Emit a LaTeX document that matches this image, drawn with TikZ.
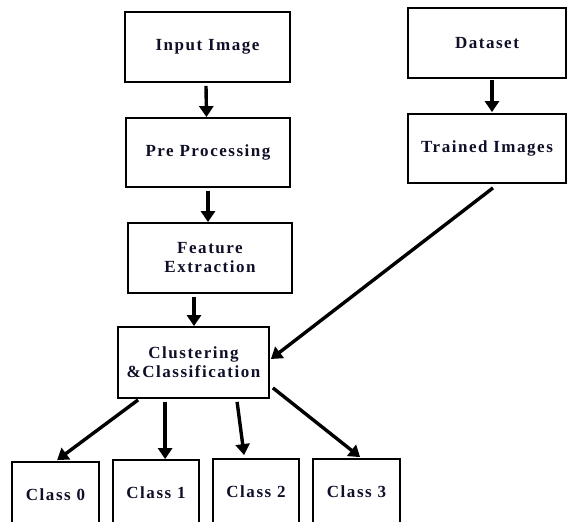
\documentclass[tikz,border=0pt]{standalone}
\usepackage{fontspec}
\setmainfont{Liberation Serif}[LetterSpace=9]
\usetikzlibrary{arrows.meta,calc}
\definecolor{txt}{RGB}{15,15,40}
\begin{document}
\begin{tikzpicture}[x=1pt,y=-1pt,
  box/.style={draw=black,line width=1.8pt,inner sep=0pt,text=txt,
    font=\fontsize{17}{19}\selectfont\bfseries,align=center},
  arr/.style={line width=3.4pt,-{Triangle[length=11pt,width=14pt]}}]
\useasboundingbox (0,0) rectangle (568,522);
\clip (0,0) rectangle (568,522);
\node[box,minimum width=165pt,minimum height=70pt] (input) at (207.5,47) {\raisebox{-3pt}{Input Image}};
\node[box,minimum width=164pt,minimum height=69pt] (pre) at (208,152.5) {Pre Processing};
\node[box,minimum width=164pt,minimum height=70pt] (feat) at (210,258) {Feature\\Extraction};
\node[box,minimum width=158pt,minimum height=70pt] (data) at (487,43) {Dataset};
\node[box,minimum width=158pt,minimum height=69pt] (train) at (487,148.5) {Trained Images};
\node[box,minimum width=151pt,minimum height=71pt] (clust) at (193.5,362.5) {Clustering\\\&Classification};
\node[box,minimum width=87pt,minimum height=66pt] (c0) at (55.5,495) {Class 0};
\node[box,minimum width=86pt,minimum height=66pt] (c1) at (156,493) {Class 1};
\node[box,minimum width=86pt,minimum height=66pt] (c2) at (256,492) {Class 2};
\node[box,minimum width=87pt,minimum height=66pt] (c3) at (356.5,492) {Class 3};
\draw[arr] ([xshift=-1.5pt,yshift=-3pt]input.south) -- ([xshift=-1.5pt]pre.north);
\draw[arr] ([yshift=-3pt]pre.south) -- ([xshift=-2pt]feat.north);
\draw[arr] ([xshift=-16pt,yshift=-3pt]feat.south) -- ([xshift=0.5pt]clust.north);
\draw[arr] ([xshift=5pt,yshift=-1pt]data.south) -- ([xshift=5pt,yshift=1pt]train.north);
\draw[arr] ([xshift=6pt,yshift=-4pt]train.south) -- ([xshift=1pt,yshift=3.5pt]clust.east);
\draw[arr] ([xshift=21pt,yshift=-1pt]clust.south west) -- ([xshift=46pt,yshift=1pt]c0.north west);
\draw[arr] ([xshift=48pt,yshift=-3pt]clust.south west) -- ([xshift=53pt]c1.north west);
\draw[arr] ([xshift=120pt,yshift=-3pt]clust.south west) -- ([xshift=32pt,yshift=3pt]c2.north west);
\draw[arr] ([xshift=3pt,yshift=11pt]clust.south east) -- ([xshift=48pt,yshift=1pt]c3.north west);
\end{tikzpicture}
\end{document}
